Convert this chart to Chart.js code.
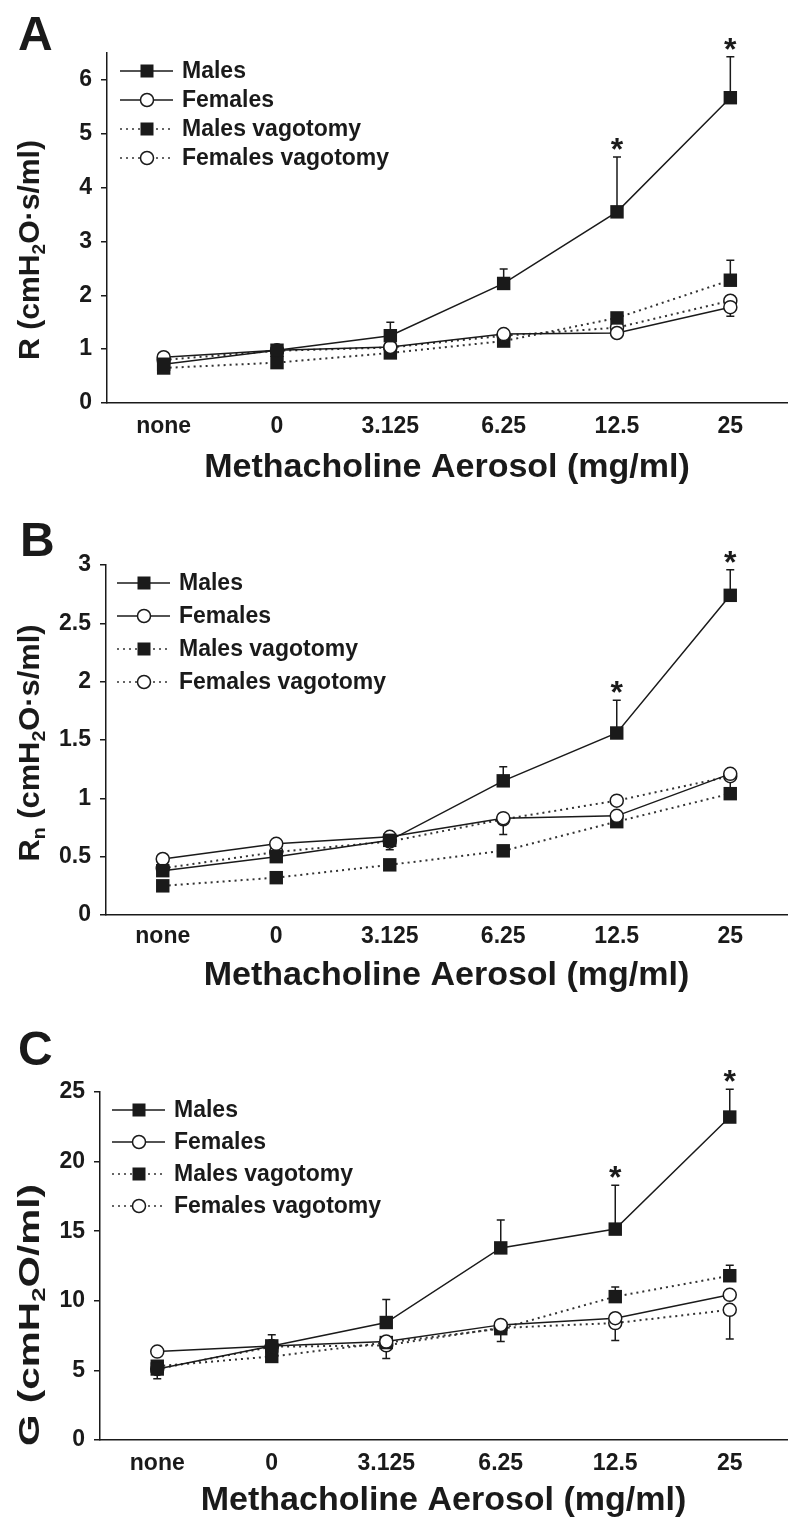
<!DOCTYPE html>
<html>
<head>
<meta charset="utf-8">
<script src="https://cdn.jsdelivr.net/npm/chart.js@4.4.1/dist/chart.umd.min.js"></script>
<style>
  body { margin: 0; background: #fff; }
  canvas { position: absolute; left: 0; display: block; }
</style>
</head>
<body>
<canvas id="chartA" width="800" height="500" style="top:0px"></canvas>
<canvas id="chartB" width="800" height="510" style="top:500px"></canvas>
<canvas id="chartC" width="800" height="516" style="top:1010px"></canvas>
<script>
// methacholine doses on the x axis
const doses = ['none', '0', '3.125', '6.25', '12.5', '25'];
const seriesNames = ['Males', 'Females', 'Males vagotomy', 'Females vagotomy'];
const starIdx = [4, 5];

// panel A - R
const aMales = [0.72, 0.98, 1.25, 2.22, 3.55, 5.67];
const aMalesUp = [0.05, 0.05, 0.25, 0.27, 1.02, 0.76];
const aFemales = [0.85, 0.98, 1.04, 1.28, 1.30, 1.78];
const aFemalesDown = [0.04, 0.03, 0.04, 0.04, 0.04, 0.17];
const aMalesVag = [0.65, 0.75, 0.93, 1.15, 1.58, 2.28];
const aMalesVagUp = [0.04, 0.04, 0.04, 0.04, 0.08, 0.37];
const aFemalesVag = [0.80, 0.97, 1.03, 1.25, 1.40, 1.90];
const aFemalesVagDown = [0.04, 0.03, 0.04, 0.04, 0.04, 0.08];
const aTicks = [0, 1, 2, 3, 4, 5, 6];

// panel B - Rn
const bMales = [0.38, 0.50, 0.64, 1.15, 1.56, 2.74];
const bMalesUp = [0.02, 0.02, 0.03, 0.12, 0.28, 0.22];
const bFemales = [0.48, 0.61, 0.67, 0.83, 0.85, 1.21];
const bFemalesDown = [0.02, 0.02, 0.02, 0.02, 0.02, 0.02];
const bMalesVag = [0.25, 0.32, 0.43, 0.55, 0.80, 1.04];
const bMalesVagUp = [0.02, 0.02, 0.02, 0.02, 0.02, 0.03];
const bFemalesVag = [0.40, 0.54, 0.63, 0.82, 0.98, 1.19];
const bFemalesVagDown = [0.02, 0.02, 0.07, 0.13, 0.02, 0.10];
const bTicks = [0, 0.5, 1, 1.5, 2, 2.5, 3];

// panel C - G
const cMales = [5.1, 6.76, 8.44, 13.8, 15.15, 23.2];
const cMalesUp = [0.1, 0.8, 1.65, 2.0, 3.15, 2.0];
const cFemales = [6.35, 6.75, 7.07, 8.27, 8.75, 10.43];
const cFemalesDown = [0.1, 0.1, 0.1, 0.1, 0.1, 0.1];
const cMalesVag = [5.3, 6.0, 7.0, 8.0, 10.3, 11.8];
const cMalesVagUp = [0.1, 0.1, 0.1, 0.1, 0.7, 0.75];
const cFemalesVag = [5.1, 6.7, 6.8, 8.05, 8.4, 9.35];
const cFemalesVagDown = [0.7, 0.1, 0.95, 0.98, 1.26, 2.1];
const cTicks = [0, 5, 10, 15, 20, 25];

const FONT = '"Liberation Sans", Arial, sans-serif';
const INK = '#1a1a1a';

Chart.defaults.font.family = FONT;
Chart.defaults.font.weight = 'bold';
Chart.defaults.color = INK;

// error bars under the markers
const errorBars = {
  id: 'errorBars',
  beforeDatasetsDraw(chart) {
    const { ctx, scales: { x, y } } = chart;
    ctx.save();
    ctx.strokeStyle = INK;
    ctx.lineWidth = 1.5;
    chart.data.datasets.forEach(ds => {
      ds.data.forEach((v, i) => {
        const px = x.getPixelForValue(i);
        [[ds.errUp, 1], [ds.errDown, -1]].forEach(([arr, s]) => {
          if (!arr || !arr[i]) return;
          const y0 = y.getPixelForValue(v);
          const y1 = y.getPixelForValue(v + s * arr[i]);
          ctx.beginPath();
          ctx.moveTo(px, y0);
          ctx.lineTo(px, y1);
          ctx.moveTo(px - 4, y1);
          ctx.lineTo(px + 4, y1);
          ctx.stroke();
        });
      });
    });
    ctx.restore();
  }
};

// significance stars, legend, panel letter, y title with subscript
const decorations = {
  id: 'decorations',
  afterDatasetsDraw(chart) {
    const { ctx, scales: { x, y } } = chart;
    const o = chart.options.plugins.decorations;
    ctx.save();

    // stars
    const ds = chart.data.datasets[0];
    ctx.fillStyle = INK;
    ctx.font = 'bold 32px ' + FONT;
    ctx.textAlign = 'center';
    ctx.textBaseline = 'alphabetic';
    starIdx.forEach(i => {
      const top = ds.data[i] + (ds.errUp ? ds.errUp[i] : 0);
      ctx.fillText('*', x.getPixelForValue(i), y.getPixelForValue(top) + 3);
    });

    // legend
    ctx.font = 'bold 23px ' + FONT;
    ctx.textAlign = 'left';
    ctx.textBaseline = 'middle';
    chart.data.datasets.forEach((d, k) => {
      const ry = o.legendY + k * o.legendGap;
      const lx = o.legendX;
      ctx.strokeStyle = d.borderColor;
      ctx.lineWidth = 1.5;
      ctx.setLineDash(d.borderDash || []);
      ctx.beginPath();
      ctx.moveTo(lx, ry);
      ctx.lineTo(lx + 53, ry);
      ctx.stroke();
      ctx.setLineDash([]);
      const mx = lx + 27;
      ctx.strokeStyle = INK;
      if (d.pointStyle === 'rect') {
        ctx.fillStyle = INK;
        ctx.fillRect(mx - 6.5, ry - 6.5, 13, 13);
      } else {
        ctx.fillStyle = '#fff';
        ctx.beginPath();
        ctx.arc(mx, ry, 6.5, 0, Math.PI * 2);
        ctx.fill();
        ctx.stroke();
      }
      ctx.fillStyle = INK;
      ctx.fillText(d.label, lx + 62, ry + 1);
    });

    // panel letter
    ctx.font = 'bold 48px ' + FONT;
    ctx.textBaseline = 'alphabetic';
    ctx.fillText(o.letter, o.letterX, o.letterY);

    // y axis title, rotated, with subscripts, stretched to its length
    ctx.translate(o.titleX, o.titleY);
    ctx.rotate(-Math.PI / 2);
    const big = 'bold 30px ' + FONT, small = 'bold 19px ' + FONT;
    let w = 0;
    o.title.forEach(([t, sub]) => { ctx.font = sub ? small : big; w += ctx.measureText(t).width; });
    ctx.scale(o.titleLen / w, 1);
    let cx = -w / 2;
    o.title.forEach(([t, sub]) => {
      ctx.font = sub ? small : big;
      ctx.fillText(t, cx, sub ? 17 : 11);
      cx += ctx.measureText(t).width;
    });
    ctx.restore();
  }
};

function makeSet(label, data, style, errUp, errDown) {
  const solid = style.indexOf('solid') === 0;
  const square = style.indexOf('square') > 0;
  return {
    label: label,
    data: data,
    errUp: errUp,
    errDown: errDown,
    borderColor: solid ? INK : '#333',
    borderWidth: solid ? 1.5 : 2,
    borderDash: solid ? [] : [2, 4],
    pointStyle: square ? 'rect' : 'circle',
    pointRadius: square ? 9.5 : 6.5,
    pointBackgroundColor: square ? INK : '#fff',
    pointBorderColor: INK,
    pointBorderWidth: square ? 0 : 1.5,
    tension: 0,
    fill: false,
    clip: false
  };
}

function makeChart(id, sets, p) {
  return new Chart(document.getElementById(id), {
    type: 'line',
    data: {
      labels: doses,
      datasets: [
        makeSet(seriesNames[0], sets[0], 'solid-square', sets[1], null),
        makeSet(seriesNames[1], sets[2], 'solid-circle', null, sets[3]),
        makeSet(seriesNames[2], sets[4], 'dot-square', sets[5], null),
        makeSet(seriesNames[3], sets[6], 'dot-circle', null, sets[7])
      ]
    },
    options: {
      responsive: false,
      animation: false,
      events: [],
      layout: { padding: { top: p.top, right: 13, left: 0, bottom: 0 } },
      plugins: {
        legend: { display: false },
        tooltip: { enabled: false },
        decorations: p.deco
      },
      scales: {
        x: {
          type: 'category',
          offset: true,
          grid: { display: false, drawTicks: false },
          border: { color: INK, width: 1.5 },
          ticks: { font: { size: 23, weight: 'bold' }, padding: p.tickPad, color: INK },
          title: {
            display: true,
            text: 'Methacholine Aerosol (mg/ml)',
            font: { size: 34, weight: 'bold' },
            color: INK,
            padding: { top: 0, bottom: p.titlePad }
          },
          afterFit: s => { s.height = p.xHeight; }
        },
        y: {
          min: 0,
          max: p.max,
          grid: { drawOnChartArea: false, drawTicks: true, tickLength: 6, color: INK, lineWidth: 1.5 },
          border: { color: INK, width: 1.5 },
          ticks: { font: { size: 23, weight: 'bold' }, padding: 9, color: INK, callback: v => String(v) },
          afterBuildTicks: s => { s.ticks = p.ticks.map(v => ({ value: v })); },
          afterFit: s => { s.width = p.yWidth; }
        }
      }
    },
    plugins: [errorBars, decorations]
  });
}

makeChart('chartA',
  [aMales, aMalesUp, aFemales, aFemalesDown, aMalesVag, aMalesVagUp, aFemalesVag, aFemalesVagDown],
  { top: 53, max: 6.5, ticks: aTicks, yWidth: 107, xHeight: 97, tickPad: 10, titlePad: 12,
    deco: { letter: 'A', letterX: 18, letterY: 50, legendX: 120, legendY: 71, legendGap: 29,
            titleX: 28, titleY: 250, titleLen: 220,
            title: [['R (cmH', false], ['2', true], ['O·s/ml)', false]] } });

makeChart('chartB',
  [bMales, bMalesUp, bFemales, bFemalesDown, bMalesVag, bMalesVagUp, bFemalesVag, bFemalesVagDown],
  { top: 65, max: 3, ticks: bTicks, yWidth: 106, xHeight: 95, tickPad: 8, titlePad: 14,
    deco: { letter: 'B', letterX: 20, letterY: 56, legendX: 117, legendY: 83, legendGap: 33,
            titleX: 28, titleY: 243, titleLen: 237,
            title: [['R', false], ['n', true], [' (cmH', false], ['2', true], ['O·s/ml)', false]] } });

makeChart('chartC',
  [cMales, cMalesUp, cFemales, cFemalesDown, cMalesVag, cMalesVagUp, cFemalesVag, cFemalesVagDown],
  { top: 82, max: 25, ticks: cTicks, yWidth: 100, xHeight: 86, tickPad: 10, titlePad: 5,
    deco: { letter: 'C', letterX: 18, letterY: 55, legendX: 112, legendY: 100, legendGap: 32,
            titleX: 28, titleY: 305, titleLen: 262,
            title: [['G (cmH', false], ['2', true], ['O/ml)', false]] } });
</script>
</body>
</html>
